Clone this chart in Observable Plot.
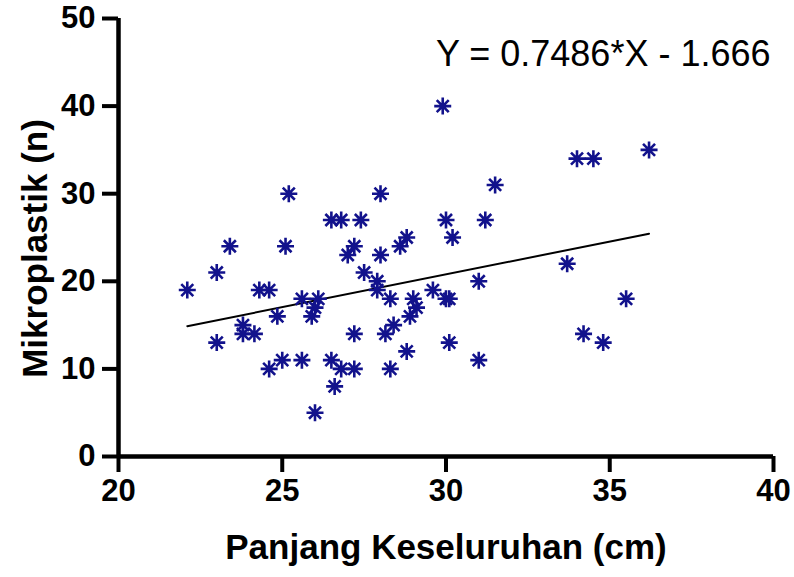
<!DOCTYPE html>
<html>
<head>
<meta charset="utf-8">
<script src="https://cdn.jsdelivr.net/npm/d3@7"></script>
<script src="https://cdn.jsdelivr.net/npm/@observablehq/plot@0.6"></script>
<style>
  html, body { margin: 0; padding: 0; background: #fff; }
  #chart svg { display: block; }
</style>
</head>
<body>
<div id="chart"></div>
<script>
// Data
const panjang = [22.1, 23.0, 23.0, 23.4, 23.8, 23.8, 24.15, 24.3, 24.6, 25.1, 24.85, 24.6, 25.0, 25.6, 25.6, 26.1, 26.0, 25.9, 26.0, 26.5, 26.6, 26.8, 27.2, 27.2, 27.0, 27.2, 27.5, 28.0, 27.9, 27.9, 28.3, 28.3, 28.15, 28.4, 28.6, 28.8, 28.8, 28.9, 29.1, 29.0, 29.6, 30.0, 30.1, 30.1, 30.2, 31.0, 31.0, 33.7, 35.5, 34.2, 34.8, 29.9, 34.0, 34.5, 36.2, 31.5, 30.0, 31.2, 25.2, 28.0, 26.5, 26.8, 27.4];
const mikroplastik = [19, 21, 13, 24, 15, 14, 14, 19, 19, 24, 16, 10, 11, 11, 18, 18, 17, 16, 5, 11, 8, 10, 10, 14, 23, 24, 21, 23, 20, 19, 18, 10, 14, 15, 24, 25, 12, 16, 17, 18, 19, 18, 18, 13, 25, 20, 11, 22, 18, 14, 13, 40, 34, 34, 35, 31, 27, 27, 30, 30, 27, 27, 27];
const slope = 0.7486;
const intercept = -1.666;
const equationLabel = "Y = 0.7486*X - 1.666";
const xTicks = [20, 25, 30, 35, 40];
const yTicks = [0, 10, 20, 30, 40, 50];
const xTitle = "Panjang Keseluruhan (cm)";
const yTitle = "Mikroplastik (n)";

const points = panjang.map((x, i) => ({x, y: mikroplastik[i]}));
const xMin = d3.min(panjang), xMax = d3.max(panjang);
const fitLine = [xMin, xMax].map(x => ({x, y: slope * x + intercept}));

const asterisk = {
  draw(ctx, size) {
    const r = Math.sqrt(size / Math.PI);
    for (const a of [0, 45, 90, 135]) {
      const t = a * Math.PI / 180;
      const c = r * Math.cos(t), s = r * Math.sin(t);
      ctx.moveTo(c, s);
      ctx.lineTo(-c, -s);
    }
  }
};

const font = "'Liberation Sans', Arial, Helvetica, sans-serif";

const chart = Plot.plot({
  width: 794,
  height: 577,
  marginLeft: 118,
  marginRight: 21,
  marginTop: 18,
  marginBottom: 121,
  style: {fontFamily: font, background: "#fff", color: "#000"},
  x: {domain: [20, 40]},
  y: {domain: [0, 50]},
  marks: [
    Plot.axisX({ticks: xTicks, tickSize: 16, tickPadding: 6, strokeWidth: 4, fontSize: 31, fontWeight: "bold", label: null, tickFormat: d => String(d)}),
    Plot.axisY({ticks: yTicks, tickSize: 16, tickPadding: 7, strokeWidth: 4, fontSize: 31, fontWeight: "bold", label: null, tickFormat: d => String(d)}),
    Plot.ruleY([0], {stroke: "#000", strokeWidth: 4.5}),
    Plot.ruleX([20], {stroke: "#000", strokeWidth: 4.5}),
    Plot.line(fitLine, {x: "x", y: "y", stroke: "#000", strokeWidth: 2}),
    Plot.dot(points, {x: "x", y: "y", symbol: asterisk, r: 8.5, stroke: "#12128c", strokeWidth: 2.6, fill: "none"}),
    Plot.text([equationLabel], {frameAnchor: "top-right", textAnchor: "end", lineAnchor: "bottom", dx: -3, dy: 47, fontSize: 36, fontWeight: "normal", fill: "#000"}),
    Plot.text([xTitle], {frameAnchor: "bottom", lineAnchor: "bottom", dy: 102, fontSize: 35, fontWeight: "bold", fill: "#000"}),
    Plot.text([yTitle], {frameAnchor: "left", rotate: -90, lineAnchor: "middle", textAnchor: "middle", dx: -83, dy: 11, fontSize: 35, fontWeight: "bold", fill: "#000"})
  ]
});
document.getElementById("chart").appendChild(chart);
</script>
</body>
</html>
